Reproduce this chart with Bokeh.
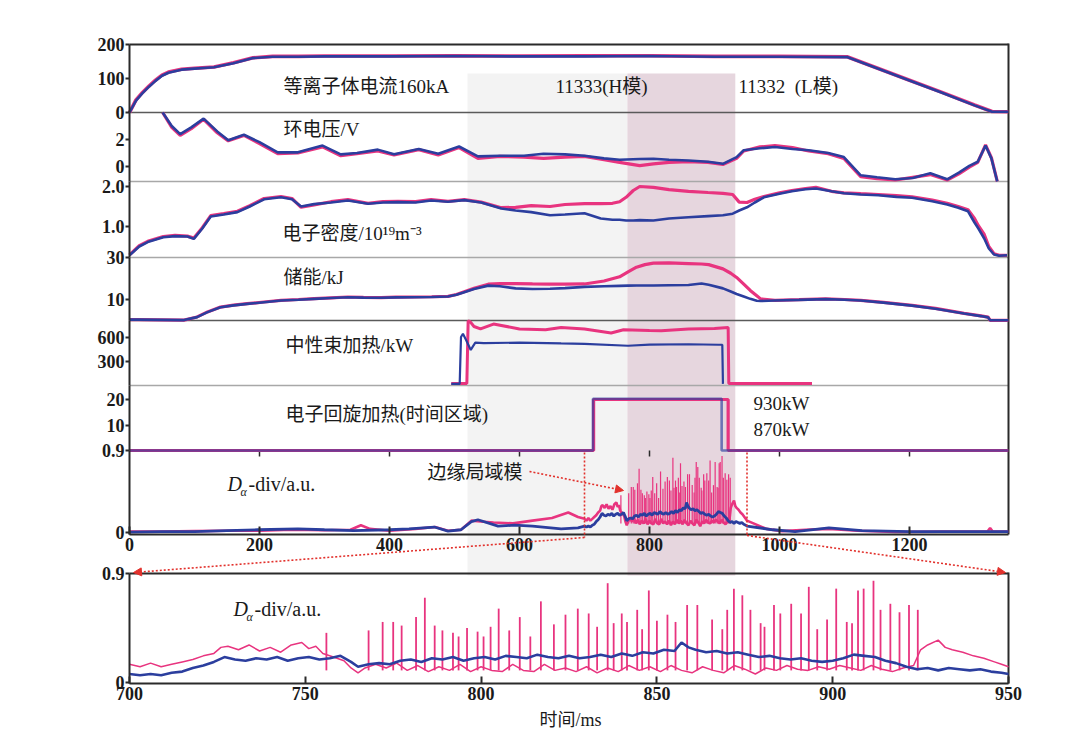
from bokeh.plotting import figure
from bokeh.models import (Range1d, LinearAxis, FixedTicker, Label, Arrow,
                          NormalHead, BoxAnnotation)
from bokeh.embed import file_html
from bokeh.resources import INLINE

# ------------------------------------------------------------------ data
# shot 11333 (H-mode, pink) and 11332 (L-mode, blue); time in ms
ip_t = [0, 10, 20, 30, 40, 50, 60, 80, 100, 130, 160, 190, 220, 260, 300, 400, 500, 600,
        700, 800, 900, 1000, 1104, 1150, 1200, 1250, 1300, 1327, 1352]
ip_pink = [0, 37, 59, 78, 95, 110, 119, 127, 130, 134, 146, 161, 165, 165, 166, 166, 167, 166,
           167, 167, 165, 165, 164, 131, 95, 59, 22, 3, 2]
ip_blue = [0, 35, 57, 76, 93, 108, 117, 126, 129, 133, 145, 160, 164, 164, 165, 165, 166, 165,
           165, 166, 164, 164, 163, 130, 94, 58, 21, 2, 2]

vl_t = [51, 65, 78, 95, 114, 135, 152, 176, 200, 228, 259, 297, 325, 350, 382, 407, 445, 475,
        507, 536, 570, 607, 637, 670, 700, 730, 754, 785, 806, 830, 860, 890, 913, 934, 945,
        970, 993, 1020, 1045, 1075, 1099, 1125, 1150, 1178, 1205, 1232, 1258, 1276, 1292,
        1305, 1317, 1326, 1335]
vl_blue = [4.0, 3.0, 2.4, 2.9, 3.55, 2.6, 1.95, 2.35, 1.8, 1.05, 1.05, 1.55, 0.9, 1.0, 1.25,
           0.9, 1.3, 0.95, 1.48, 0.75, 0.8, 0.8, 0.95, 0.9, 0.8, 0.6, 0.5, 0.55, 0.57, 0.5,
           0.45, 0.35, 0.2, 0.69, 1.2, 1.35, 1.45, 1.3, 1.2, 1.0, 0.7, -0.65, -0.8, -0.95,
           -0.85, -0.5, -0.95, -0.45, 0.05, 0.35, 1.55, 0.6, -1.1]
vl_pink = [4.0, 2.9, 2.3, 2.8, 3.5, 2.5, 1.9, 2.3, 1.7, 0.95, 1.0, 1.45, 0.8, 0.95, 1.15,
           0.85, 1.25, 0.85, 1.4, 0.6, 0.75, 0.7, 0.6, 0.7, 0.75, 0.5, 0.3, 0.07, 0.2, 0.3,
           0.35, 0.3, 0.15, 0.6, 1.15, 1.45, 1.55, 1.4, 1.15, 0.95, 0.6, -0.75, -0.9, -1.0,
           -0.8, -0.6, -1.0, -0.55, -0.05, 0.3, 1.6, 0.65, -1.1]

ne_t = [0, 15, 28, 52, 70, 89, 99, 112, 125, 145,
        166, 185, 207, 233, 250, 264, 284, 310, 336, 367,
        390, 413, 440, 464, 490, 515, 541, 572, 594, 618,
        647, 670, 700, 725, 743, 754, 764, 775, 785, 806,
        830, 860, 890, 913, 928, 938, 950, 962, 976, 1000,
        1019, 1040, 1056, 1080, 1099, 1125, 1152, 1180, 1204, 1235,
        1258, 1275, 1290, 1300, 1306, 1315, 1322, 1330, 1338, 1350]
ne_blue = [0.28, 0.5, 0.61, 0.73, 0.76, 0.75, 0.69, 0.95, 1.25, 1.3,
           1.36, 1.5, 1.68, 1.73, 1.68, 1.5, 1.56, 1.6, 1.65, 1.57,
           1.6, 1.61, 1.6, 1.65, 1.62, 1.66, 1.6, 1.45, 1.4, 1.36,
           1.28, 1.3, 1.33, 1.2, 1.17, 1.17, 1.15, 1.15, 1.16, 1.15,
           1.2, 1.23, 1.26, 1.28, 1.32, 1.4, 1.48, 1.6, 1.73, 1.82,
           1.88, 1.93, 1.95, 1.88, 1.83, 1.8, 1.78, 1.74, 1.72, 1.63,
           1.55, 1.47, 1.38, 1.1, 0.95, 0.7, 0.45, 0.3, 0.27, 0.28]
ne_pink = [0.29, 0.52, 0.63, 0.75, 0.78, 0.76, 0.71, 0.97, 1.27, 1.32,
           1.38, 1.52, 1.7, 1.75, 1.7, 1.48, 1.54, 1.62, 1.67, 1.58,
           1.62, 1.63, 1.62, 1.67, 1.63, 1.67, 1.61, 1.47, 1.48, 1.52,
           1.5, 1.55, 1.57, 1.57, 1.58, 1.62, 1.73, 1.9, 2.0, 1.98,
           1.92, 1.88, 1.85, 1.83, 1.8, 1.61, 1.6, 1.68, 1.75, 1.84,
           1.9, 1.95, 1.98, 1.88, 1.84, 1.82, 1.8, 1.77, 1.74, 1.66,
           1.58, 1.5, 1.42, 1.2, 1.02, 0.8, 0.5, 0.32, 0.28, 0.28]

w_t = [0, 12, 84, 104, 120, 140, 160, 181, 207, 233,
       260, 284, 310, 336, 360, 387, 410, 438, 465, 490,
       503, 515, 530, 552, 570, 594, 620, 647, 670, 700,
       730, 754, 767, 780, 793, 806, 830, 860, 880, 891,
       913, 925, 934, 945, 955, 965, 971, 993, 1030, 1071,
       1100, 1125, 1160, 1204, 1240, 1284, 1310, 1321, 1324, 1352]
w_blue = [0.4, 0.4, 0.2, 1.6, 4.0, 6.3, 7.2, 7.9, 8.7, 9.5,
          9.9, 10.3, 10.7, 11.1, 10.9, 10.8, 11.0, 11.1, 11.2, 11.4,
          12.3, 13.5, 15.0, 16.6, 16.3, 15.3, 15.0, 15.1, 15.4, 16.0,
          16.3, 16.5, 16.6, 16.7, 16.7, 16.7, 16.8, 16.9, 17.6, 17.0,
          15.3, 13.8, 12.6, 11.4, 10.3, 9.4, 9.3, 9.5, 9.8, 10.2,
          9.9, 9.5, 8.5, 7.1, 5.6, 3.3, 2.1, 1.5, 0.1, 0.1]
w_pink = [0.4, 0.4, 0.2, 1.7, 4.1, 6.4, 7.3, 8.0, 8.8, 9.6,
          10.0, 10.4, 10.8, 11.2, 11.0, 10.9, 11.1, 11.2, 11.3, 11.5,
          12.4, 13.7, 15.3, 17.3, 17.6, 17.6, 17.4, 17.3, 17.3, 17.4,
          18.8, 20.8, 23.2, 25.4, 26.6, 27.3, 27.4, 27.1, 26.9, 26.6,
          24.6, 22.5, 20.5, 17.3, 14.3, 11.8, 10.3, 9.6, 9.9, 10.3,
          10.0, 9.6, 8.6, 7.2, 5.8, 3.4, 2.2, 1.6, 0.1, 0.1]

nbi_pink_t = [495, 519, 521, 524, 530, 540, 560, 600, 640, 664, 700, 741, 760, 800, 818,
              860, 900, 921, 922, 1050]
nbi_pink = [25, 25, 800, 790, 730, 700, 760, 700, 690, 717, 700, 650, 690, 680, 676,
            700, 705, 717, 25, 25]
nbi_blue_t = [495, 508, 510, 513, 518, 525, 532, 545, 600, 664, 700, 767, 800, 860, 906,
              912, 913]
nbi_blue = [20, 20, 600, 640, 560, 440, 530, 525, 530, 520, 515, 492, 505, 510, 504,
            504, 20]

ec_pink_t = [0, 714, 714, 921, 921, 1352]
ec_pink = [0, 0, 20, 20, 0, 0]
ec_blue_t = [0, 713, 713, 911, 911, 1352]
ec_blue = [0, 0, 20.3, 20.3, 0, 0]

# D-alpha outside the 700-950 ms window (upper panel)
da_pre_t_pink = [0, 50, 100, 150, 200, 250, 300, 340, 356, 370, 400, 440, 470, 490, 510,
                 526, 540, 560, 590, 620, 650, 675, 690]
da_pre_pink = [0.01, 0.01, 0.015, 0.02, 0.02, 0.03, 0.025, 0.03, 0.08, 0.04, 0.02, 0.04,
               0.06, 0.02, 0.03, 0.13, 0.12, 0.11, 0.10, 0.13, 0.16, 0.22, 0.17]
da_post_t_pink = [980, 1004, 1040, 1076, 1120, 1178, 1250, 1320, 1324, 1328, 1352]
da_post_pink = [0.04, 0.015, 0.03, 0.04, 0.02, 0.005, 0.01, 0.01, 0.05, 0.01, 0.01]
da_pre_t_blue = [0, 50, 100, 150, 197, 259, 300, 345, 400, 430, 469, 490, 510, 526, 536,
                 567, 592, 620, 664, 690]
da_pre_blue = [0.005, 0.01, 0.01, 0.02, 0.03, 0.04, 0.03, 0.02, 0.03, 0.04, 0.06, 0.015,
               0.03, 0.12, 0.14, 0.07, 0.08, 0.07, 0.04, 0.05]
da_post_t_blue = [990, 1024, 1076, 1127, 1200, 1352]
da_post_blue = [0.03, 0.01, 0.05, 0.02, 0.01, 0.01]

# D-alpha in the 700-950 ms window (lower panel, also used in the upper panel)
lo_pink_t = [700, 703, 706, 709, 712, 715, 718, 721, 724, 726,
             728, 731, 734, 737, 740, 743, 746, 749, 751, 753,
             755, 758, 761, 763, 765, 767, 770, 773, 776, 779,
             782, 785, 788, 791, 794, 797, 800, 803, 806, 809,
             812, 815, 818, 821, 824, 827, 830, 833, 836, 839,
             842, 845, 848, 851, 854, 857, 860, 863, 866, 869,
             872, 875, 878, 881, 884, 887, 890, 893, 896, 899,
             902, 905, 908, 911, 914, 917, 920, 923, 925, 927,
             930, 932, 934, 937, 940, 943, 946, 948, 950]
lo_pink = [0.15, 0.13, 0.16, 0.13, 0.15, 0.17, 0.19, 0.22, 0.24, 0.29,
           0.30, 0.27, 0.31, 0.26, 0.29, 0.25, 0.31, 0.33, 0.28, 0.30,
           0.24, 0.21, 0.18, 0.12, 0.08, 0.12, 0.15, 0.12, 0.16, 0.10,
           0.14, 0.09, 0.13, 0.10, 0.15, 0.09, 0.13, 0.10, 0.09, 0.15,
           0.10, 0.09, 0.15, 0.10, 0.12, 0.09, 0.13, 0.08, 0.12, 0.09,
           0.14, 0.10, 0.13, 0.09, 0.14, 0.10, 0.08, 0.13, 0.10, 0.08,
           0.14, 0.11, 0.07, 0.12, 0.10, 0.14, 0.11, 0.10, 0.13, 0.11,
           0.14, 0.12, 0.10, 0.14, 0.11, 0.09, 0.12, 0.14, 0.27, 0.31,
           0.35, 0.29, 0.27, 0.25, 0.22, 0.20, 0.17, 0.15, 0.13]
lo_blue_t = [700, 703, 706, 709, 712, 715, 718, 721, 724, 727,
             730, 733, 736, 739, 742, 745, 748, 751, 754, 757,
             760, 763, 765, 768, 771, 774, 777, 780, 783, 786,
             789, 792, 795, 798, 801, 804, 807, 810, 813, 816,
             819, 822, 825, 828, 831, 834, 837, 840, 843, 846,
             849, 852, 855, 857, 859, 861, 864, 867, 870, 873,
             876, 879, 882, 885, 888, 891, 894, 897, 900, 903,
             906, 909, 912, 915, 918, 921, 924, 927, 930, 933,
             936, 939, 942, 945, 948, 950]
lo_blue = [0.07, 0.06, 0.07, 0.06, 0.08, 0.09, 0.12, 0.14, 0.17, 0.21,
           0.19, 0.18, 0.20, 0.19, 0.21, 0.18, 0.20, 0.21, 0.19, 0.20,
           0.22, 0.17, 0.13, 0.15, 0.16, 0.15, 0.18, 0.19, 0.17, 0.20,
           0.19, 0.21, 0.18, 0.20, 0.21, 0.19, 0.22, 0.21, 0.20, 0.23,
           0.21, 0.20, 0.22, 0.20, 0.21, 0.23, 0.21, 0.24, 0.22, 0.25,
           0.24, 0.27, 0.26, 0.33, 0.29, 0.27, 0.25, 0.26, 0.24, 0.25,
           0.23, 0.21, 0.22, 0.20, 0.19, 0.20, 0.18, 0.17, 0.18, 0.20,
           0.23, 0.22, 0.21, 0.18, 0.16, 0.13, 0.11, 0.12, 0.10, 0.12,
           0.11, 0.10, 0.11, 0.09, 0.08, 0.07]

# ELM spikes of shot 11333 (time, peak) and the trough level they rise from
elm_t = [756, 768, 772, 775, 777.4, 781.5, 784, 786.8, 789, 792,
         793.6, 796, 799, 800.7, 802.7, 805, 808, 811, 814, 817,
         820.7, 824, 827.5, 830.6, 833, 836, 837.7, 840, 841.5, 844.4,
         845.8, 847.7, 850, 853, 855.3, 858.6, 861.5, 865.7, 868.6, 870,
         871.9, 874.3, 876.6, 879.5, 880.6, 883.3, 885.1, 888.2, 891, 893.2,
         895.6, 898.4, 901, 904, 905.5, 907.2, 908.8, 911.6, 913.6, 916.4,
         919, 921.7, 924.2]
elm_peak = [0.41, 0.43, 0.50, 0.50, 0.47, 0.54, 0.70, 0.47, 0.43, 0.41,
            0.38, 0.45, 0.42, 0.38, 0.46, 0.61, 0.43, 0.54, 0.38, 0.67,
            0.48, 0.56, 0.61, 0.57, 0.46, 0.82, 0.49, 0.57, 0.50, 0.60,
            0.44, 0.76, 0.51, 0.56, 0.50, 0.64, 0.64, 0.52, 0.44, 0.60,
            0.775, 0.72, 0.60, 0.49, 0.46, 0.64, 0.57, 0.65, 0.57, 0.79,
            0.44, 0.52, 0.775, 0.50, 0.49, 0.76, 0.775, 0.84, 0.60, 0.65,
            0.58, 0.64, 0.60]
ELM_FLOOR = 0.10

shade_lmode = (520, 766)     # NBI-heated L-mode phase
shade_hmode = (766, 932)     # H-mode phase

up_ticks = [0, 200, 400, 600, 800, 1000, 1200]
lo_ticks = [700, 750, 800, 850, 900, 950]

# ------------------------------------------------------------------ styling / layout
PINK = "#E8347F"
BLUE = "#2B3E9E"
RED = "#E2312C"
AXC = "#2a2a2a"
SEP_DARK = "#5a5a5a"
SEP_LIGHT = "#a8a8a8"
TXT = "#1a1a1a"
TICK_FONT = "Liberation Serif"
TEXT_FONT = "Liberation Serif, Noto Sans CJK SC"

# the frame covers the whole canvas (canvas at page 0,0); positions are page pixels
CANVAS_W, CANVAS_H = 1070, 735
PX0 = 129.0                    # page x of t=0 (upper) and of t=700 (lower)
UP_PX_PER_MS = 0.65
LO_PX_PER_MS = 3.516
BORDER_RIGHT = 1008


def X(px):
    return (px - PX0) / UP_PX_PER_MS


def Y(py):
    return CANVAS_H - py


def XL(px):
    return 700 + (px - PX0) / LO_PX_PER_MS


p = figure(width=CANVAS_W, height=CANVAS_H, output_backend="svg", toolbar_location=None,
           x_range=Range1d(X(0), X(CANVAS_W)), y_range=Range1d(0, CANVAS_H),
           x_axis_location=None, y_axis_location=None,
           min_border=0, min_border_left=0, min_border_right=0,
           min_border_top=0, min_border_bottom=0)
p.outline_line_color = None
p.grid.visible = False
p.background_fill_color = "white"
p.border_fill_color = "white"
p.extra_x_ranges = {"lower": Range1d(XL(0), XL(CANVAS_W))}

# panels: name, two reference (page-y, value) pairs, band top/bottom, ticks, overrides, x range
PANELS = [
    ("ip", (112, 0), (44, 200), 44, 112, [0, 100, 200], {}, "default"),
    ("vl", (166, 0), (139, 2), 112, 181, [0, 2], {}, "default"),
    ("ne", (226, 1.0), (186, 2.0), 181, 257, [1.0, 2.0], {1: "1.0", 2: "2.0"}, "default"),
    ("w", (320, 0), (257, 30), 257, 320, [10, 30], {}, "default"),
    ("nbi", (385, 0), (336.5, 600), 320, 385, [300, 600], {}, "default"),
    ("ec", (450, 0), (399, 20), 385, 450, [10, 20], {}, "default"),
    ("da", (532, 0), (450, 0.9), 450, 534, [0, 0.9], {0: "0", 0.9: "0.9"}, "default"),
    ("da2", (682, 0), (573, 0.9), 573, 683, [0, 0.9], {0: "0", 0.9: "0.9"}, "lower"),
]

extra = {}
for name, (p1, v1), (p2, v2), btop, bbot, ticks, ov, xr in PANELS:
    s = (v2 - v1) / (p1 - p2)
    extra[name] = Range1d(v1 - (CANVAS_H - p1) * s, v1 + p1 * s)
p.extra_y_ranges = extra

# background shading
for (t0, t1), col in ((shade_lmode, "#F3F3F3"), (shade_hmode, "#E6D6DE")):
    p.add_layout(BoxAnnotation(left=t0, right=t1, top=Y(73), bottom=Y(575), fill_color=col,
                               fill_alpha=1, line_color=None, level="underlay"))

# panel separators and frame lines
x_left, x_right = X(PX0), X(BORDER_RIGHT)
for py, col, lw in ((44, AXC, 2), (112, SEP_DARK, 1.6), (181, SEP_LIGHT, 1.5),
                    (257, SEP_LIGHT, 1.5), (320, SEP_DARK, 1.6), (385, SEP_LIGHT, 1.5),
                    (573, AXC, 2)):
    p.segment(x0=[x_left], y0=[Y(py)], x1=[x_right], y1=[Y(py)], line_color=col,
              line_width=lw)
p.segment(x0=[x_right, x_right], y0=[Y(43), Y(572)], x1=[x_right, x_right],
          y1=[Y(534), Y(683)], line_color=AXC, line_width=2)
# small inward ticks on the top edge of the D-alpha panel
p.segment(x0=up_ticks[1:], y0=[Y(450)] * 6, x1=up_ticks[1:], y1=[Y(456)] * 6,
          line_color=AXC, line_width=1.5)


# ---- data lines
def pair(t_p, v_p, t_b, v_b, rng, wp=3.2, wb=2.6, xr="default", ab=1.0):
    p.line(t_p, v_p, y_range_name=rng, x_range_name=xr, line_color=PINK, line_width=wp)
    p.line(t_b, v_b, y_range_name=rng, x_range_name=xr, line_color=BLUE, line_width=wb,
           line_alpha=ab)


pair(ip_t, ip_pink, ip_t, ip_blue, "ip", 3.6, 2.6)
pair(vl_t, vl_pink, vl_t, vl_blue, "vl")
pair(ne_t, ne_pink, ne_t, ne_blue, "ne")
pair(w_t, w_pink, w_t, w_blue, "w")
pair(nbi_pink_t, nbi_pink, nbi_blue_t, nbi_blue, "nbi", 3.0, 2.2)
pair(ec_pink_t, ec_pink, ec_blue_t, ec_blue, "ec", 3.2, 2.6, ab=0.65)

# upper D-alpha (full discharge)
up_pink_t = da_pre_t_pink + lo_pink_t + da_post_t_pink
up_pink = da_pre_pink + lo_pink + da_post_pink
up_blue_t = da_pre_t_blue + lo_blue_t + da_post_t_blue
up_blue = da_pre_blue + lo_blue + da_post_blue
p.line(up_pink_t, up_pink, y_range_name="da", line_color=PINK, line_width=2.6)
p.segment(x0=elm_t, y0=[ELM_FLOOR] * len(elm_t), x1=elm_t, y1=elm_peak, y_range_name="da",
          line_color=PINK, line_width=1.2)
p.line(up_blue_t, up_blue, y_range_name="da", line_color=BLUE, line_width=2.8)

# lower D-alpha zoom 700-950 ms
p.line(lo_pink_t, lo_pink, x_range_name="lower", y_range_name="da2", line_color=PINK,
       line_width=1.5)
p.segment(x0=elm_t, y0=[ELM_FLOOR] * len(elm_t), x1=elm_t, y1=elm_peak,
          x_range_name="lower", y_range_name="da2", line_color=PINK, line_width=1.8)
p.line(lo_blue_t, lo_blue, x_range_name="lower", y_range_name="da2", line_color=BLUE,
       line_width=2.6)


# ---- axes (all pinned with fixed_location inside the canvas-sized frame)
def style_axis(ax, size="18px"):
    ax.axis_line_color = AXC
    ax.axis_line_width = 2
    ax.major_tick_line_color = AXC
    ax.major_tick_line_width = 2
    ax.minor_tick_line_color = None
    ax.major_label_text_font = TICK_FONT
    ax.major_label_text_font_size = size
    ax.major_label_text_font_style = "bold"
    ax.major_label_text_color = TXT


for name, (p1, v1), (p2, v2), btop, bbot, ticks, ov, xr in PANELS:
    s = (v2 - v1) / (p1 - p2)
    vb, vt = v1 + (p1 - bbot) * s, v1 + (p1 - btop) * s
    ax = LinearAxis(y_range_name=name, x_range_name=xr,
                    fixed_location=(0 if xr == "default" else 700),
                    bounds=(vb, vt), ticker=FixedTicker(ticks=ticks),
                    major_label_overrides=ov, major_tick_out=4, major_tick_in=0,
                    major_label_standoff=1)
    style_axis(ax)
    p.add_layout(ax, "left")

xa = LinearAxis(fixed_location=Y(534), bounds=(0, X(BORDER_RIGHT)),
                ticker=FixedTicker(ticks=up_ticks), major_tick_in=8, major_tick_out=0,
                major_label_standoff=3)
style_axis(xa)
p.add_layout(xa, "below")

xl = LinearAxis(x_range_name="lower", fixed_location=Y(683), bounds=(700, 950),
                ticker=FixedTicker(ticks=lo_ticks), major_tick_in=7, major_tick_out=0,
                major_label_standoff=3)
style_axis(xl)
p.add_layout(xl, "below")


# ---- texts
def txt(text, px, py, size="19px", style="normal", align="left"):
    p.add_layout(Label(x=X(px), y=Y(py), text=text, text_font=TEXT_FONT,
                       text_font_size=size, text_font_style=style, text_color=TXT,
                       text_align=align, text_baseline="middle"))


txt("等离子体电流160kA", 283, 86)
txt("11333(H模)", 555, 86)
txt("11332\u00a0\u00a0(L模)", 738, 86)
txt("环电压/V", 283, 129)
txt("电子密度/10¹⁹m⁻³", 282, 233)
txt("储能/kJ", 283, 277)
txt("中性束加热/kW", 285, 345)
txt("电子回旋加热(时间区域)", 285, 414)
txt("930kW", 753, 403)
txt("870kW", 753, 429)
txt("边缘局域模", 427, 472)
txt("时间/ms", 570, 719, "18px", align="center")
for x0, y0 in ((227, 483), (233, 608)):
    txt("D", x0, y0, "20px", "italic")
    txt("α", x0 + 13, y0 + 8, "12px", "italic")
    txt("-div/a.u.", x0 + 21, y0, "20px")

# ---- red dotted guides
head = dict(size=8, fill_color=RED, line_color=RED)
for xs, ys, xe, ye, h in ((700, Y(452), 700, Y(537), False),
                          (950, Y(452), 950, Y(535), False),
                          (700, Y(537), X(133), Y(572), True),
                          (950, Y(535), X(1005), Y(572), True),
                          (X(529), Y(471), X(623), Y(490), True)):
    p.add_layout(Arrow(x_start=xs, y_start=ys, x_end=xe, y_end=ye,
                       end=NormalHead(**head) if h else None,
                       line_color=RED, line_width=1.6, line_dash="2 2"))

open("out.html", "w").write(file_html(p, INLINE))
